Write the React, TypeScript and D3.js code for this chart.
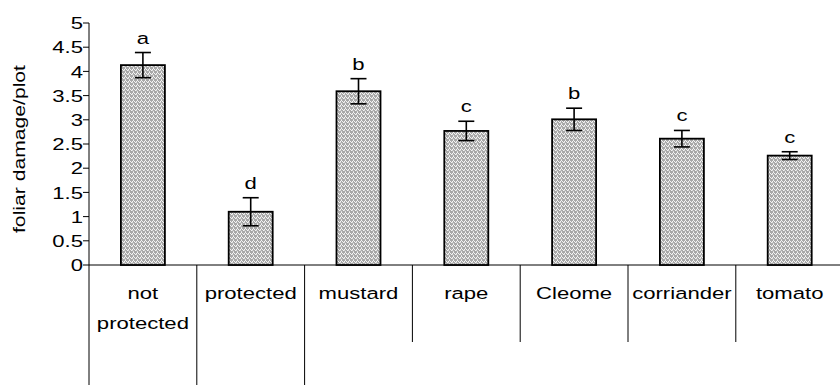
import React from 'react';
import * as d3 from 'd3';

// chart data
const categories = ["not protected", "protected", "mustard", "rape", "Cleome", "corriander", "tomato"];
const means = [4.13, 1.1, 3.59, 2.77, 3.01, 2.61, 2.26];
const errors = [0.26, 0.29, 0.26, 0.2, 0.23, 0.17, 0.08];
const letters = ["a", "d", "b", "c", "b", "c", "c"];
// second level grouping of categories (sizes only, no visible label)
const groupSizes = [1, 1, 5];
const yTicks = [0, 0.5, 1, 1.5, 2, 2.5, 3, 3.5, 4, 4.5, 5];

const W = 840;
const H = 385;
const marginLeft = 89;
const marginTop = 23;
const plotBottom = 265;
const slot = 107.8;
const font = "'Liberation Sans', Arial, sans-serif";
const sx = 1.3; // the reference text is stretched sideways

export default function App() {
  const x = d3.scaleBand<string>()
    .domain(categories)
    .range([marginLeft, marginLeft + slot * categories.length])
    .padding(0);

  const y = d3.scaleLinear()
    .domain([0, 5])
    .range([plotBottom, marginTop]);

  const barW = x.bandwidth() / 2.45;

  // boundaries between groups get long separators
  const groupEdges = new Set<number>();
  let acc = 0;
  groupEdges.add(0);
  groupSizes.forEach(n => { acc += n; groupEdges.add(acc); });

  const separators = d3.range(categories.length + 1).map(i => ({
    x: marginLeft + i * x.step(),
    long: groupEdges.has(i)
  }));

  return (
    <div style={{ position: "absolute", left: 0, top: 0 }}>
      <svg width={W} height={H} style={{ display: "block", background: "#fff" }}>
        <defs>
          <pattern id="weave" width="4" height="4" patternUnits="userSpaceOnUse">
            <rect width="4" height="4" fill="#a8a8a8" />
            <rect x="1" y="0" width="1" height="1" fill="#f4f4f4" />
            <rect x="0" y="1" width="1" height="1" fill="#f4f4f4" />
            <rect x="2" y="1" width="1" height="1" fill="#f4f4f4" />
            <rect x="3" y="2" width="1" height="1" fill="#f4f4f4" />
            <rect x="1" y="3" width="1" height="1" fill="#e0e0e0" />
            <rect x="0" y="2" width="1" height="1" fill="#d8d8d8" />
          </pattern>
        </defs>

        {/* y axis title */}
        <text
          transform={`translate(19,${(65 + 233) / 2}) rotate(-90)`}
          textAnchor="middle"
          dy="0.35em"
          fontFamily={font}
          fontSize={17}
          textLength={168}
          lengthAdjust="spacingAndGlyphs"
          fill="#000"
        >foliar damage/plot</text>

        {/* y axis */}
        <line x1={marginLeft} x2={marginLeft} y1={y(5)} y2={plotBottom} stroke="#000" strokeWidth={1} />
        {yTicks.map(t => (
          <g key={t}>
            <line x1={marginLeft - 6} x2={marginLeft} y1={y(t)} y2={y(t)} stroke="#000" strokeWidth={1} />
            <text
              transform={`translate(${marginLeft - 6},${y(t)}) scale(${sx},1)`}
              textAnchor="end"
              dy="0.36em"
              fontFamily={font}
              fontSize={17}
              fill="#000"
            >{String(t)}</text>
          </g>
        ))}

        {/* x axis line */}
        <line x1={marginLeft} x2={W} y1={plotBottom} y2={plotBottom} stroke="#000" strokeWidth={1} />

        {/* category separators */}
        {separators.map((s, i) => (
          <line key={i} x1={s.x} x2={s.x} y1={plotBottom} y2={s.long ? H : 342} stroke="#000" strokeWidth={1} />
        ))}

        {/* bars */}
        {categories.map((c, i) => {
          const cx = (x(c) ?? 0) + x.bandwidth() / 2;
          return (
            <rect
              key={c}
              x={cx - barW / 2}
              y={y(means[i])}
              width={barW}
              height={plotBottom - y(means[i])}
              fill="url(#weave)"
              stroke="#000"
              strokeWidth={1.8}
            />
          );
        })}

        {/* error bars and letters */}
        {categories.map((c, i) => {
          const cx = (x(c) ?? 0) + x.bandwidth() / 2;
          const top = y(means[i] + errors[i]);
          const bot = y(means[i] - errors[i]);
          return (
            <g key={c} stroke="#000" strokeWidth={1.6}>
              <line x1={cx} x2={cx} y1={top} y2={bot} />
              <line x1={cx - 8} x2={cx + 8} y1={top} y2={top} />
              <line x1={cx - 8} x2={cx + 8} y1={bot} y2={bot} />
              <text
                transform={`translate(${cx},${top - 9}) scale(${sx},1)`}
                textAnchor="middle"
                fontFamily={font}
                fontSize={17}
                stroke="none"
                fill="#000"
              >{letters[i]}</text>
            </g>
          );
        })}

        {/* category labels */}
        {categories.map(c => {
          const cx = (x(c) ?? 0) + x.bandwidth() / 2;
          const words = c === "not protected" ? ["not", "protected"] : [c];
          return (
            <g key={c}>
              {words.map((w, j) => (
                <text
                  key={j}
                  transform={`translate(${cx},${299 + j * 30}) scale(${sx},1)`}
                  textAnchor="middle"
                  fontFamily={font}
                  fontSize={17}
                  fill="#000"
                >{w}</text>
              ))}
            </g>
          );
        })}
      </svg>
    </div>
  );
}
